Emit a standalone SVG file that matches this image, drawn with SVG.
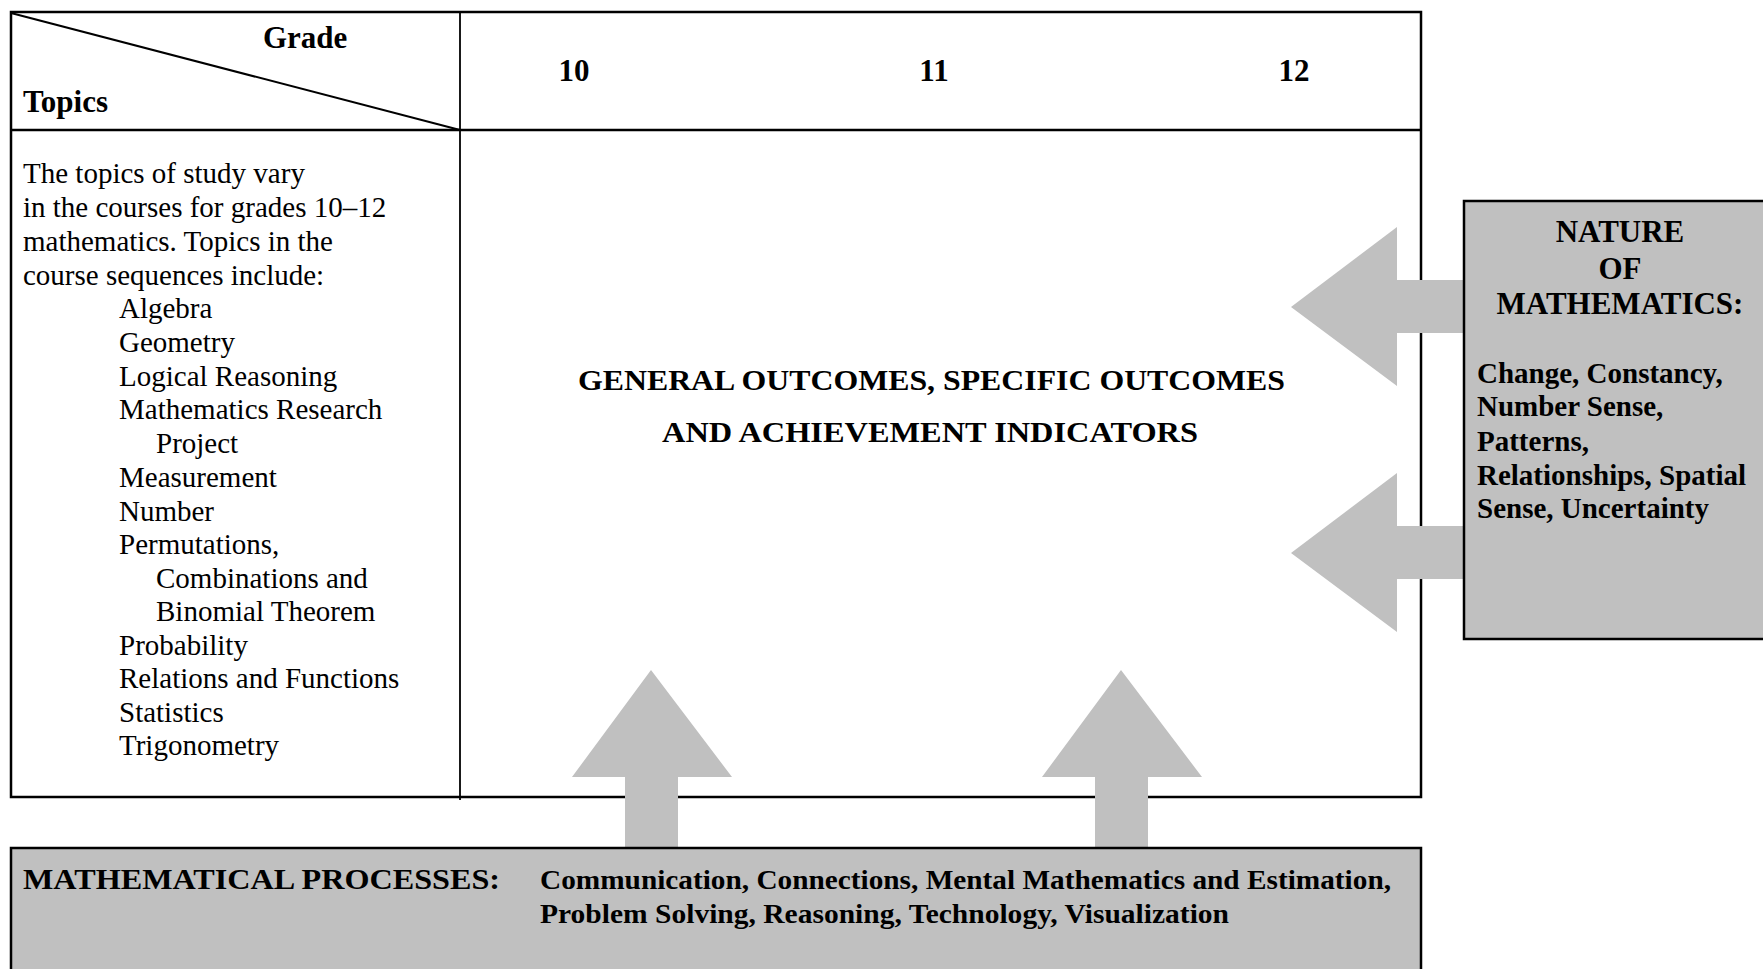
<svg xmlns="http://www.w3.org/2000/svg" width="1763" height="969" viewBox="0 0 1763 969">
<style>
.t{font-family:"Liberation Serif","Times New Roman",serif;fill:#000}
.b{font-weight:bold}
.r{font-size:29px}
.h{font-size:31px;font-weight:bold}
.box{fill:#c0c0c0;stroke:#000;stroke-width:2.5}
.ar{fill:#c0c0c0;stroke:none}
.ln{stroke:#000;fill:none}
</style>
<rect width="1763" height="969" fill="#fff"/>
<g id="table">
<rect x="11" y="12" width="1410" height="785" class="ln" stroke-width="2.5"/>
<line x1="11" y1="130" x2="1421" y2="130" class="ln" stroke-width="2.5"/>
<line x1="460" y1="12" x2="460" y2="800" class="ln" stroke-width="1.8"/>
<line x1="11" y1="13" x2="460" y2="130" class="ln" stroke-width="2"/>
<text class="t h" x="263" y="48">Grade</text>
<text class="t h" x="23" y="112">Topics</text>
<text class="t h" x="574" y="81" text-anchor="middle">10</text>
<text class="t h" x="934" y="81" text-anchor="middle">11</text>
<text class="t h" x="1294" y="81" text-anchor="middle">12</text>
</g>
<g id="topics">
<text class="t r" x="23" y="183">The topics of study vary</text>
<text class="t r" x="23" y="217">in the courses for grades 10–12</text>
<text class="t r" x="23" y="251">mathematics. Topics in the</text>
<text class="t r" x="23" y="285">course sequences include:</text>
<text class="t r" x="119" y="318">Algebra</text>
<text class="t r" x="119" y="352">Geometry</text>
<text class="t r" x="119" y="386">Logical Reasoning</text>
<text class="t r" x="119" y="419">Mathematics Research</text>
<text class="t r" x="156" y="453">Project</text>
<text class="t r" x="119" y="487">Measurement</text>
<text class="t r" x="119" y="521">Number</text>
<text class="t r" x="119" y="554">Permutations,</text>
<text class="t r" x="156" y="588">Combinations and</text>
<text class="t r" x="156" y="621">Binomial Theorem</text>
<text class="t r" x="119" y="655">Probability</text>
<text class="t r" x="119" y="688">Relations and Functions</text>
<text class="t r" x="119" y="722">Statistics</text>
<text class="t r" x="119" y="755">Trigonometry</text>
</g>
<g id="outcomes">
<text class="t b" font-size="30" x="578" y="390" textLength="707" lengthAdjust="spacingAndGlyphs">GENERAL OUTCOMES, SPECIFIC OUTCOMES</text>
<text class="t b" font-size="30" x="662" y="442" textLength="536" lengthAdjust="spacingAndGlyphs">AND ACHIEVEMENT INDICATORS</text>
</g>
<g id="connectors">
<polygon class="ar" points="1291,307 1397,227 1397,280 1466,280 1466,333 1397,333 1397,386"/>
<polygon class="ar" points="1291,553 1397,473 1397,526 1466,526 1466,579 1397,579 1397,632"/>
<polygon class="ar" points="651,670 732,777 678,777 678,849 625,849 625,777 572,777"/>
<polygon class="ar" points="1121,670 1202,777 1148,777 1148,849 1095,849 1095,777 1042,777"/>
</g>
<g id="nature">
<rect class="box" x="1464" y="201" width="320" height="438"/>
<text class="t h" x="1620" y="242" text-anchor="middle">NATURE</text>
<text class="t h" x="1620" y="279" text-anchor="middle">OF</text>
<text class="t h" x="1620" y="314" text-anchor="middle">MATHEMATICS:</text>
<text class="t b" font-size="29" x="1477" y="383">Change, Constancy,</text>
<text class="t b" font-size="29" x="1477" y="416">Number Sense,</text>
<text class="t b" font-size="29" x="1477" y="451">Patterns,</text>
<text class="t b" font-size="29" x="1477" y="485">Relationships, Spatial</text>
<text class="t b" font-size="29" x="1477" y="518">Sense, Uncertainty</text>
</g>
<g id="processes">
<rect class="box" x="11" y="848" width="1410" height="140"/>
<text class="t b" font-size="29" x="23" y="889" textLength="477" lengthAdjust="spacingAndGlyphs">MATHEMATICAL PROCESSES:</text>
<text class="t b" font-size="27" x="540" y="889" textLength="851" lengthAdjust="spacingAndGlyphs">Communication, Connections, Mental Mathematics and Estimation,</text>
<text class="t b" font-size="27" x="540" y="923" textLength="689" lengthAdjust="spacingAndGlyphs">Problem Solving, Reasoning, Technology, Visualization</text>
</g>
</svg>
